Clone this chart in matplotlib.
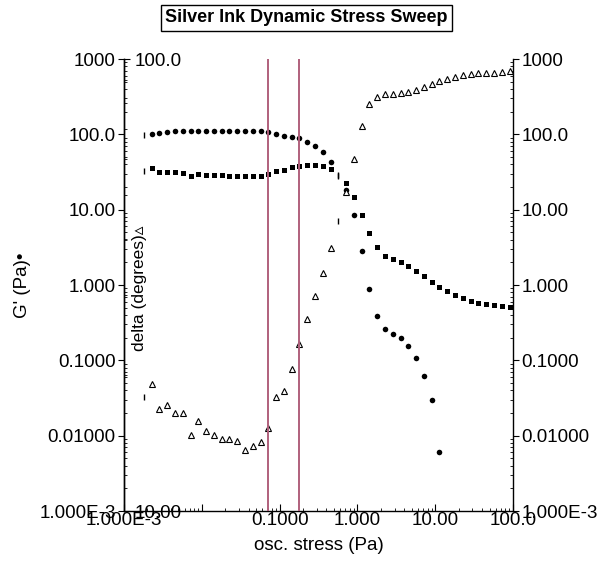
import numpy as np
import matplotlib
matplotlib.use("Agg")
import matplotlib.pyplot as plt
from matplotlib.ticker import FixedLocator, FixedFormatter, NullFormatter, LogLocator

plt.rcParams['font.family'] = ['Liberation Sans', 'DejaVu Sans']

# ---------------- data ----------------
stress = [0.00180, 0.00226, 0.00285, 0.00359, 0.00452, 0.00569, 0.00716, 0.00902,
          0.01135, 0.01429, 0.01799, 0.02265, 0.02851, 0.03589, 0.04519, 0.05689,
          0.07161, 0.09016, 0.1135, 0.1429, 0.1799, 0.2265, 0.2851, 0.3589,
          0.4519, 0.5689, 0.7161, 0.9016, 1.135, 1.429, 1.799, 2.265,
          2.851, 3.589, 4.519, 5.689, 7.161, 9.016, 11.35, 14.29,
          17.99, 22.65, 28.51, 35.89, 45.19, 56.89, 71.61, 90.16]

g_prime = [98, 100, 104, 108, 110, 110, 111, 111,
           112, 112, 112, 112, 112, 111, 111, 110,
           108, 101, 96, 92, 88.6, 79.8, 70, 57.7,
           43.3, 28.9, 18.2, 8.5, 2.83, 0.893, 0.387, 0.261,
           0.221, 0.196, 0.155, 0.107, 0.0625, 0.0297, 0.00612, None,
           None, None, None, None, None, None, None, None]

g_double_prime = [32.6, 35.7, 31.3, 31.3, 31.3, 31.0, 28.4, 29.4,
                  28.9, 28.6, 28.6, 28.4, 28.4, 27.7, 27.7, 27.9,
                  29.4, 32.6, 34.1, 36.8, 38.5, 39.5, 39.5, 38.0,
                  34.4, 28.0, 22.4, 14.6, 8.41, 4.94, 3.19, 2.45,
                  2.21, 2.04, 1.80, 1.53, 1.32, 1.11, 0.940, 0.832,
                  0.743, 0.665, 0.618, 0.582, 0.554, 0.537, 0.526, 0.515]

delta = [17.9, 19.1, 16.8, 17.2, 16.5, 16.5, 14.7, 15.8,
         15.0, 14.7, 14.4, 14.45, 14.3, 13.65, 13.9, 14.2,
         15.3, 17.9, 18.4, 20.6, 23.4, 26.6, 29.9, 33.7,
         38.1, 43.8, 50.8, 60.0, 71.1, 79.5, 82.6, 83.8,
         83.8, 84.1, 84.5, 85.5, 86.8, 88.0, 89.3, 90.2,
         91.4, 92.0, 92.6, 93.0, 93.0, 93.3, 93.6, 93.9]

segment_starts = [0, 25]          # points drawn as a short bar
ref_lines = [0.0716, 0.176]       # vertical marker lines

x_ticks = [1e-3, 1e-2, 1e-1, 1, 10, 100]
x_labels = ["1.000E-3", "", "0.1000", "1.000", "10.00", "100.0"]
y_ticks = [1e-3, 1e-2, 1e-1, 1, 10, 100, 1000]
y_labels = ["1.000E-3", "0.01000", "0.1000", "1.000", "10.00", "100.0", "1000"]
d_ticks = [10, 100]
d_labels = ["10.00", "100.0"]

title = "Silver Ink Dynamic Stress Sweep"
xlabel = "osc. stress (Pa)"
ylabel = "G' (Pa)\u2022"
dlabel = "delta (degrees)\u25b5"

# ---------------- figure ----------------
W, H = 601, 564
fig = plt.figure(figsize=(W / 100, H / 100), dpi=100)
L, R, T, B = 124, 513, 59, 511
ax = fig.add_axes([L / W, 1 - B / H, (R - L) / W, (B - T) / H])
ax.set_xscale('log')
ax.set_yscale('log')
ax.set_xlim(1e-3, 100)
ax.set_ylim(1e-3, 1000)

x = np.array(stress, dtype=float)
gp = np.array([np.nan if v is None else v for v in g_prime], dtype=float)
gpp = np.array(g_double_prime, dtype=float)
dd = np.array(delta, dtype=float)
special = np.zeros(len(x), bool)
special[segment_starts] = True
normal = ~special

ax2 = ax.twinx()
ax2.set_yscale('log')
ax2.set_ylim(10, 100)

ms_kw = dict(linestyle='none', color='black')
ax.plot(x[normal], gp[normal], marker='o', markersize=4.0, mew=0, zorder=3, **ms_kw)
ax.plot(x[normal], gpp[normal], marker='s', markersize=3.6, mew=0, zorder=3, **ms_kw)
ax.plot(x[special], gp[special], marker='|', markersize=4, mew=1.0, zorder=3, **ms_kw)
ax.plot(x[special], gpp[special], marker='|', markersize=4, mew=1.0, zorder=3, **ms_kw)
ax2.plot(x[normal], dd[normal], marker='^', markersize=4.6, mfc='white', mec='black',
         mew=0.8, linestyle='none', zorder=3)
ax2.plot(x[special], dd[special], marker='|', markersize=4, mew=1.0, zorder=3, **ms_kw)

for xv in ref_lines:
    ax2.axvline(xv, color='#b0607c', lw=1.4, zorder=5)

tick_fs = 13.5
# main x axis
ax.xaxis.set_major_locator(FixedLocator(x_ticks))
ax.xaxis.set_major_formatter(FixedFormatter(x_labels))
ax.xaxis.set_minor_locator(LogLocator(base=10, subs=np.arange(2, 10)))
ax.xaxis.set_minor_formatter(NullFormatter())
ax.tick_params(axis='x', which='major', direction='in', length=5, width=0.8,
               pad=1, labelsize=tick_fs, top=False)
ax.tick_params(axis='x', which='minor', direction='in', length=2.5, width=0.6, top=False)

# main y axis (left and right)
ax.yaxis.set_major_locator(FixedLocator(y_ticks))
ax.yaxis.set_major_formatter(FixedFormatter(y_labels))
ax.yaxis.set_minor_locator(LogLocator(base=10, subs=np.arange(2, 10)))
ax.yaxis.set_minor_formatter(NullFormatter())
ax.tick_params(axis='y', which='major', direction='out', length=4, width=0.8,
               pad=2, labelsize=tick_fs, left=True, right=True,
               labelleft=True, labelright=True)
ax.tick_params(axis='y', which='minor', direction='in', length=2.5, width=0.6,
               left=True, right=True)

# delta axis on the left spine, labels inside
ax2.spines['right'].set_position(('axes', 0))
for s in ['left', 'top', 'bottom']:
    ax2.spines[s].set_visible(False)
ax2.yaxis.set_major_locator(FixedLocator(d_ticks))
ax2.yaxis.set_major_formatter(FixedFormatter(d_labels))
ax2.yaxis.set_minor_locator(LogLocator(base=10, subs=np.arange(2, 10)))
ax2.yaxis.set_minor_formatter(NullFormatter())
ax2.tick_params(axis='y', which='major', direction='out', length=4, width=0.8,
                pad=3.5, labelsize=tick_fs)
ax2.tick_params(axis='y', which='minor', direction='out', length=2.5, width=0.6)

for ax_ in (ax, ax2):
    for s in ax_.spines.values():
        s.set_linewidth(1.0)
ax.spines['top'].set_visible(False)

ax.set_xlabel(xlabel, fontsize=13.5)
ax.xaxis.set_label_coords(0.5, -0.058)
ax.set_ylabel(ylabel, fontsize=13.5)
ax.yaxis.set_label_coords(-0.24, 0.5)
ax2.set_ylabel(dlabel, fontsize=12.5, rotation=90)
ax2.yaxis.set_label_position('right')
ax2.yaxis.set_label_coords(0.041, 0.492)
ax2.yaxis.label.set_verticalalignment('center')
ax2.yaxis.label.set_horizontalalignment('center')

fig.text(0.51, 1 - 18 / H, title, ha='center', va='center', fontsize=13,
         fontweight='bold',
         bbox=dict(boxstyle='square,pad=0.25', fc='white', ec='black', lw=1.0))

fig.savefig('out.png', dpi=100)
